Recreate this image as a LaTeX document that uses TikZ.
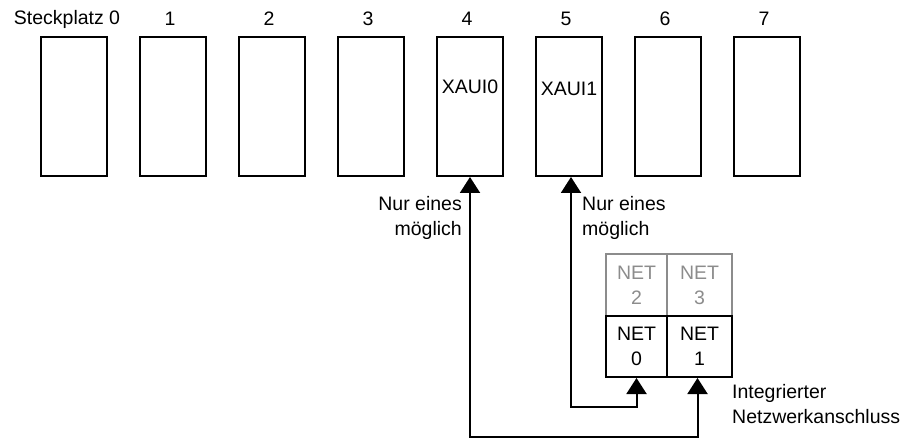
\documentclass[tikz,border=0pt]{standalone}
\usepackage{fontspec}
\setmainfont{Liberation Sans}
\usetikzlibrary{arrows.meta}
\definecolor{netgray}{RGB}{140,140,140}
\tikzset{
  x=1pt, y=-1pt,
  every node/.style={font=\fontsize{19.5}{25}\selectfont, inner sep=0pt},
  slotbox/.style={draw, line width=2pt, minimum width=66pt, minimum height=139pt},
  slotlabel/.style={anchor=center},
  cellblack/.style={draw, line width=2pt, align=center},
  cellgray/.style={draw=netgray, text=netgray, line width=2pt, align=center},
  conn/.style={line width=2pt, {Triangle[width=20pt,length=16pt]}-{Triangle[width=20pt,length=16pt]}},
}
\begin{document}
\begin{tikzpicture}
\useasboundingbox (0,0) rectangle (913,438);
% slots
\foreach \i in {0,...,7} {
  \node[slotbox] (s\i) at ({74+99*\i},106.5) {};
}
\node[slotlabel] (l0) at (67,19) {Steckplatz 0};
\foreach \i in {1,...,7} {
  \node[slotlabel] (l\i) at ({71+99*\i},19) {\i};
}
\node (x0) at ([yshift=20]s4.center) {XAUI0};
\node (x1) at ([yshift=18]s5.center) {XAUI1};
% NET cells
\node[cellgray, minimum width=61pt, minimum height=62pt] (net2) at (636.5,285) {NET\\2};
\node[cellgray, minimum width=65pt, minimum height=62pt] (net3) at (699.5,285) {NET\\3};
\node[cellblack, minimum width=61pt, minimum height=61pt] (net0) at (636.5,346.5) {NET\\0};
\node[cellblack, minimum width=65pt, minimum height=61pt] (net1) at (699.5,346.5) {NET\\1};
% connectors
\coordinate (b1) at (0,437);
\coordinate (b2) at (0,407);
\draw[conn] (s4.south) -- (s4.south |- b1) -| ([xshift=-2]net1.south);
\draw[conn] ([xshift=2]s5.south) -- ([xshift=2]s5.south |- b2) -| (net0.south);
% labels
\node[align=right, anchor=east] (n1) at (462,217.5) {Nur eines\\möglich};
\node[align=left, anchor=west] (n2) at (582,217.5) {Nur eines\\möglich};
\node[align=left, anchor=west] (ia) at (732,404.5) {Integrierter\\Netzwerkanschluss};
\end{tikzpicture}
\end{document}
